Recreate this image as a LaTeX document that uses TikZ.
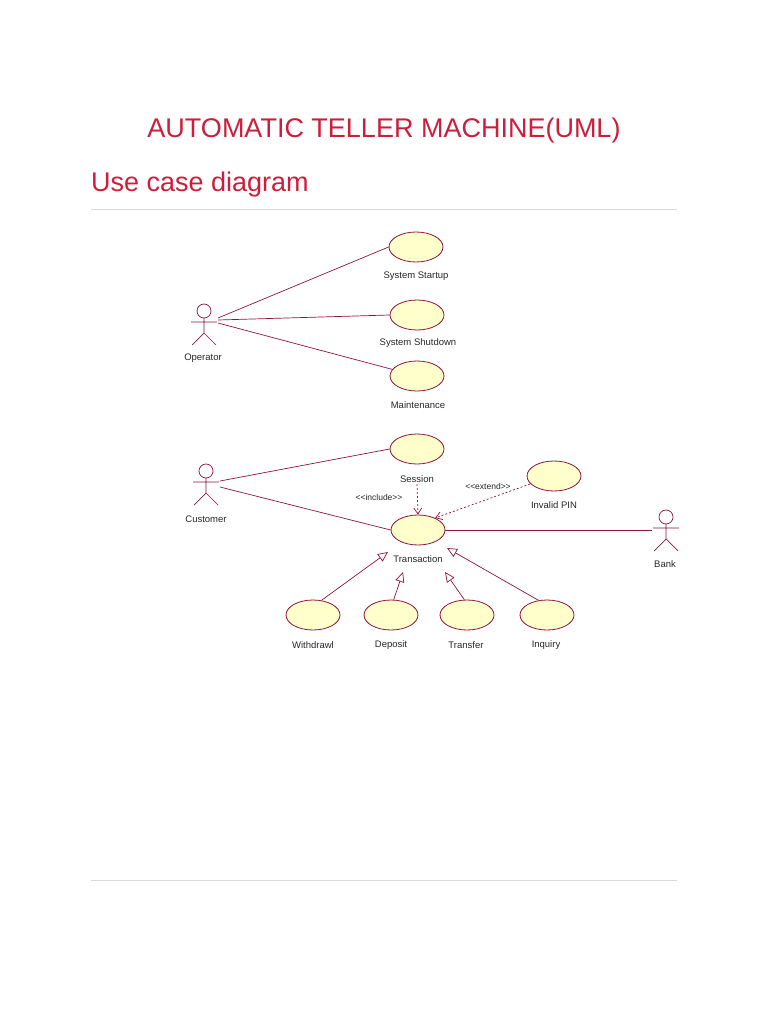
\documentclass[tikz,border=0pt]{standalone}
\usepackage{fontspec}
\setmainfont{Liberation Sans}
\usetikzlibrary{arrows.meta,shapes.geometric}
\definecolor{ttl}{RGB}{204,30,60}
\definecolor{uc}{RGB}{255,255,204}
\definecolor{ln}{RGB}{140,20,60}
\begin{document}
\begin{tikzpicture}[x=1pt,y=-1pt,
 uc/.style={ellipse,draw=ln,fill=uc,minimum width=54pt,minimum height=30pt,inner sep=0pt,line width=0.8pt},
 lab/.style={font=\fontsize{9.5}{11}\selectfont,text=black!85},
 as/.style={draw=ln,line width=0.7pt},
 gen/.style={as,-{Triangle[open,length=10pt,width=9pt]}},
 dep/.style={as,dashed,dash pattern=on 2pt off 2pt,-{Straight Barb[length=6pt,width=8pt]}}]
\useasboundingbox (0,0) rectangle (768,1024);
\node[text=ttl,font=\fontsize{27}{32}\selectfont] (title) at (384,131) {AUTOMATIC TELLER MACHINE(UML)};
\node[text=ttl,font=\fontsize{27}{32}\selectfont,anchor=west,inner sep=0pt] (sub) at (91,185) {Use case diagram};
\draw[black!15] (91,209) coordinate (r1a) -- (677,209) coordinate (r1b);
\draw[black!15] (91,880) coordinate (r2a) -- (677,880) coordinate (r2b);
\newcommand\actor[3]{%
 \draw[ln,line width=0.7pt] (#1,#2) circle (7);
 \draw[ln,line width=0.7pt] (#1,#2+7) -- (#1,#2+22) (#1-13,#2+11) -- (#1+13,#2+11)
   (#1-12,#2+34) -- (#1,#2+22) -- (#1+12,#2+34);
 \coordinate (#3) at (#1,#2+14);}
\actor{204}{311}{op}
\actor{206}{471}{cu}
\actor{666}{517}{bk}
\node[lab] (opl) at (203,358) {Operator};
\node[lab] (cul) at (206,519) {Customer};
\node[lab] (bkl) at (665,564) {Bank};
\node[uc] (ss) at (416,247) {}; \node[lab] at (416,276) {System Startup};
\node[uc] (sd) at (417,315) {}; \node[lab] at (418,343) {System Shutdown};
\node[uc] (mt) at (417,376) {}; \node[lab] at (418,405) {Maintenance};
\node[uc] (se) at (417,449) {}; \node[lab] at (417,479) {Session};
\node[uc] (ip) at (554,476) {}; \node[lab] at (554,505) {Invalid PIN};
\node[uc] (tr) at (418,530) {}; \node[lab] (trl) at (418,559) {Transaction};
\node[uc] (wd) at (313,615) {}; \node[lab] at (313,645) {Withdrawl};
\node[uc] (dp) at (391,615) {}; \node[lab] at (391,645) {Deposit};
\node[uc] (tf) at (467,615) {}; \node[lab] at (466,645) {Transfer};
\node[uc] (iq) at (547,615) {}; \node[lab] at (546,645) {Inquiry};
\coordinate (op1) at (218,318); \coordinate (op2) at (218,320); \coordinate (op3) at (218,323);
\draw[as] (op1) -- (ss.west); \draw[as] (op2) -- (sd.west); \draw[as] (op3) -- (mt.165);
\coordinate (cu1) at (220,481); \coordinate (cu2) at (220,487);
\draw[as] (cu1) -- (se.west); \draw[as] (cu2) -- (tr.west);
\coordinate (bk1) at (652,530);
\draw[as] (tr.east) -- (bk1);
\coordinate (wg) at (388,552); \coordinate (dg) at (403,572); \coordinate (tg) at (445,572); \coordinate (ig) at (447,548);
\draw[gen] (wd.60) -- (wg);
\draw[gen] (dp.80) -- (dg);
\draw[gen] (tf.100) -- (tg);
\draw[gen] (iq.120) -- (ig);
\coordinate (inc) at (417,484); \coordinate (ext) at (530,484);
\draw[dep] (inc) -- (tr.north);
\draw[dep] (ext) -- (tr.35);
\node[lab,font=\fontsize{8.5}{10}\selectfont] at (379,497) {{<}{<}include{>}{>}};
\node[lab,font=\fontsize{8.5}{10}\selectfont] at (488,486) {{<}{<}extend{>}{>}};
\end{tikzpicture}
\end{document}
